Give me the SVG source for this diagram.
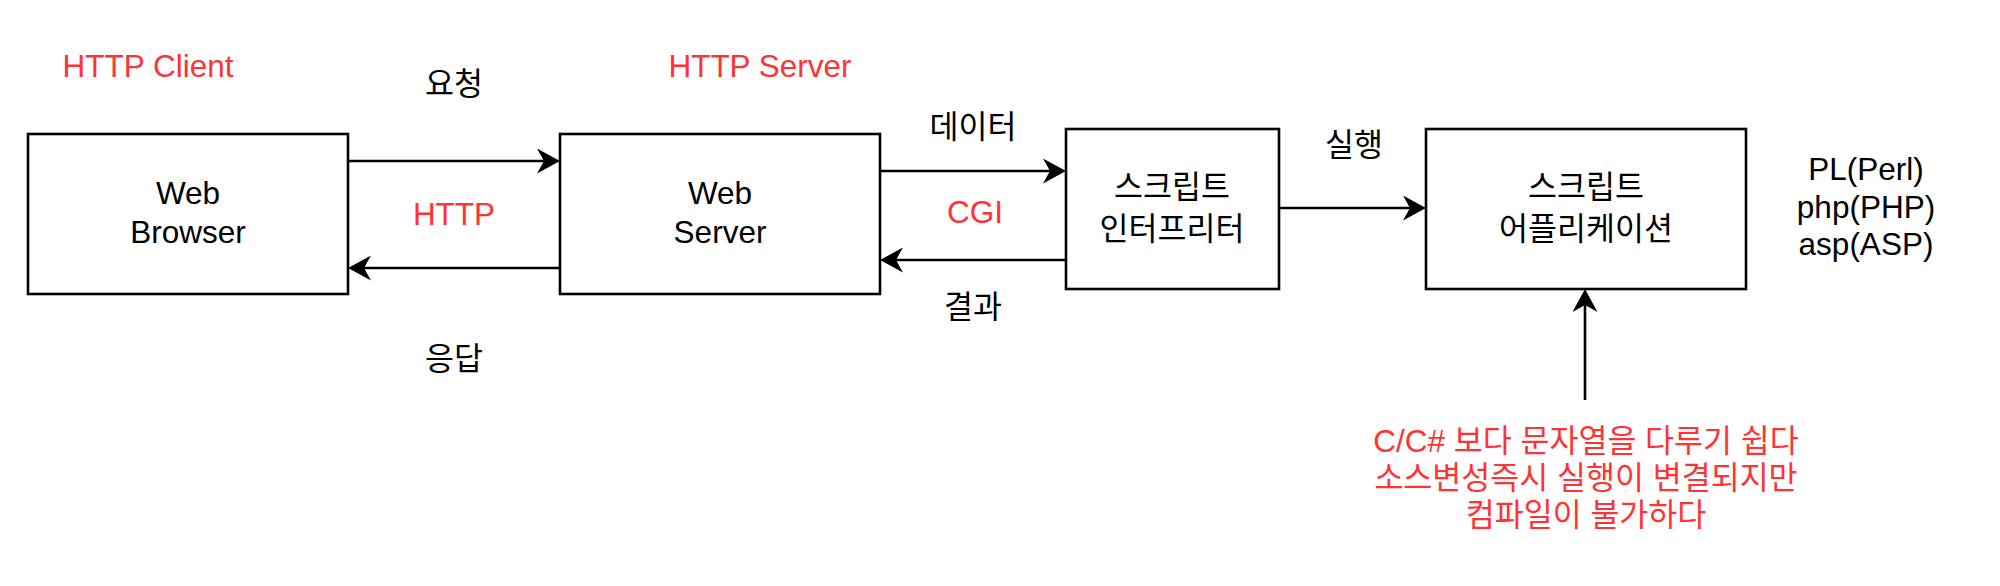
<svg xmlns="http://www.w3.org/2000/svg" width="2000" height="586" viewBox="0 0 2000 586">
<style>
.box{fill:#fff;stroke:#000;stroke-width:2.6}
.t{font-family:"Liberation Sans","Noto Sans CJK KR",sans-serif;font-size:31.5px;fill:#000;text-anchor:middle}
.r{fill:#FF3333}
.c{fill:none;stroke:#000;stroke-width:2.6}
</style>
<defs>
<marker id="ah" markerUnits="userSpaceOnUse" markerWidth="23" markerHeight="25" refX="7" refY="12.5" orient="auto" viewBox="0 0 23 25">
<path d="M0,0 L23,12.5 L0,25 L7,12.5 Z" fill="#000"/>
</marker>
</defs>
<rect width="2000" height="586" fill="#fff"/>
<g id="connectors">
<line class="c" x1="348" y1="161" x2="544" y2="161" marker-end="url(#ah)"/>
<line class="c" x1="560" y1="268" x2="364" y2="268" marker-end="url(#ah)"/>
<line class="c" x1="880" y1="171" x2="1050" y2="171" marker-end="url(#ah)"/>
<line class="c" x1="1066" y1="260" x2="896" y2="260" marker-end="url(#ah)"/>
<line class="c" x1="1279" y1="208" x2="1410" y2="208" marker-end="url(#ah)"/>
<line class="c" x1="1585" y1="400" x2="1585" y2="305" marker-end="url(#ah)"/>
</g>
<g id="web-browser">
<rect class="box" x="28" y="134" width="320" height="160"/>
<text class="t" x="188" y="204">Web</text>
<text class="t" x="188" y="243">Browser</text>
</g>
<g id="web-server">
<rect class="box" x="560" y="134" width="320" height="160"/>
<text class="t" x="720" y="204">Web</text>
<text class="t" x="720" y="243">Server</text>
</g>
<g id="script-interpreter">
<rect class="box" x="1066" y="129" width="213" height="160"/>
<text class="t" x="1172" y="198">스크립트</text>
<text class="t" x="1172" y="240">인터프리터</text>
</g>
<g id="script-application">
<rect class="box" x="1426" y="129" width="320" height="160"/>
<text class="t" x="1586" y="198">스크립트</text>
<text class="t" x="1586" y="240">어플리케이션</text>
</g>
<g id="labels">
<text class="t r" x="148" y="77">HTTP Client</text>
<text class="t r" x="760" y="77">HTTP Server</text>
<text class="t" x="454" y="95">요청</text>
<text class="t r" x="454" y="225">HTTP</text>
<text class="t" x="454" y="370">응답</text>
<text class="t" x="973" y="138">데이터</text>
<text class="t r" x="975" y="223">CGI</text>
<text class="t" x="973" y="318">결과</text>
<text class="t" x="1354" y="156">실행</text>
<text class="t" x="1866" y="180">PL(Perl)</text>
<text class="t" x="1866" y="218">php(PHP)</text>
<text class="t" x="1866" y="255">asp(ASP)</text>
<text class="t r" x="1586" y="452">C/C# 보다 문자열을 다루기 쉽다</text>
<text class="t r" x="1586" y="489">소스변성즉시 실행이 변결되지만</text>
<text class="t r" x="1586" y="526">컴파일이 불가하다</text>
</g>
</svg>
